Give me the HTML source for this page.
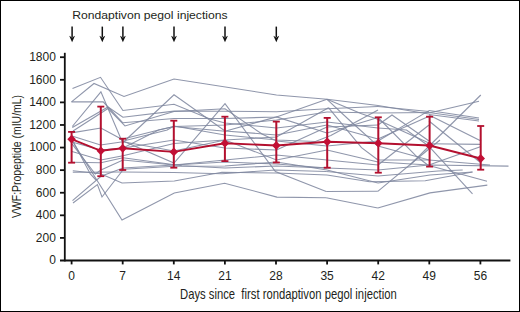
<!DOCTYPE html>
<html><head><meta charset="utf-8"><style>
html,body{margin:0;padding:0;background:#fff;}
body{width:520px;height:312px;overflow:hidden;}
svg{display:block;}
text{font-family:"Liberation Sans",sans-serif;fill:#231f20;}
</style></head><body>
<svg width="520" height="312" viewBox="0 0 520 312">
<rect x="0" y="0" width="520" height="312" fill="#fff"/>

<g fill="none" stroke="#80879f" stroke-width="1.1" stroke-opacity="0.88" stroke-linejoin="miter">
<polyline points="72.5,88.4 100.5,77.3 122.9,110.5 174.0,104.3 210.0,119.0 225.0,123.0 276.5,128.0 327.0,122.0"/>
<polyline points="71.5,101.9 94.0,83.5 124.0,96.5 174.0,79.0 276.5,95.0 327.0,99.3"/>
<polyline points="71.5,101.9 103.2,101.9 108.0,107.0 122.9,117.2 174.0,111.1 225.0,111.3 276.5,111.7 327.0,108.7"/>
<polyline points="72.3,126.5 100.9,91.9 120.9,138.8 123.0,142.5 174.0,94.8 225.0,131.0 276.5,135.0 327.0,125.0"/>
<polyline points="72.3,127.5 108.0,107.0 122.9,122.8 174.0,118.5 225.0,118.5 276.5,117.0 327.0,99.3"/>
<polyline points="73.0,131.0 108.0,108.5 125.0,126.0 174.0,111.5 225.0,108.8 262.0,134.0 276.5,141.0 327.0,146.0"/>
<polyline points="73.0,132.6 100.9,128.0 119.4,138.0 123.0,141.0 174.0,163.0 225.0,103.7 275.4,171.5 326.2,191.5"/>
<polyline points="72.0,136.0 100.5,145.0 123.0,141.7 174.0,151.0 225.0,140.0 276.5,137.0 328.5,107.7"/>
<polyline points="72.0,142.0 100.5,150.0 123.0,148.0 158.6,130.0 174.0,126.5 225.0,131.3 276.5,116.9 327.0,133.0"/>
<polyline points="72.0,143.8 95.3,174.0 101.0,170.0 123.0,160.0 174.0,165.0 225.0,160.0 276.5,155.0 327.0,160.0"/>
<polyline points="72.0,151.5 100.9,160.0 123.0,155.8 174.0,143.5 225.0,140.0 276.5,160.0 327.0,150.0"/>
<polyline points="72.0,162.3 100.9,162.7 123.0,157.7 182.0,165.7 225.0,168.0 276.5,166.0 327.0,168.0"/>
<polyline points="123.0,139.0 158.6,130.0 174.0,126.5 225.0,125.0 276.5,120.0 327.0,112.0"/>
<polyline points="125.4,140.5 167.2,130.0 174.0,126.0 225.0,135.0 276.5,140.0 315.4,141.5 330.8,135.4"/>
<polyline points="123.0,148.0 174.0,140.0 225.0,148.0 276.5,150.0 327.0,127.0"/>
<polyline points="73.5,143.0 122.0,220.0 174.3,192.9 224.6,183.2 276.9,197.1 326.2,197.7"/>
<polyline points="72.8,172.3 123.0,172.0 174.0,172.5 222.0,173.8 275.4,170.0 326.2,171.5"/>
<polyline points="72.8,170.8 100.5,173.8 122.0,183.0 174.3,181.0 222.0,172.3 276.0,173.0 327.0,175.0"/>
<polyline points="72.5,200.6 101.0,176.3 123.0,168.0 174.0,165.0 225.0,162.0 276.5,164.0 327.0,168.0"/>
<polyline points="73.0,203.0 97.4,184.6 102.0,197.0 123.5,169.2 174.3,166.2 225.0,166.0 276.5,162.0 327.0,170.0"/>
<polyline points="73.4,141.9 90.3,174.0 96.0,180.0"/>
<polyline points="327.0,99.3 378.0,105.5"/>
<polyline points="327.0,99.3 361.5,113.8 380.0,120.0"/>
<polyline points="327.0,99.3 350.8,121.5 372.3,140.8 378.0,146.0"/>
<polyline points="328.5,107.7 361.5,147.7 378.0,160.0"/>
<polyline points="327.0,108.7 378.0,106.5"/>
<polyline points="327.0,112.0 378.0,113.0"/>
<polyline points="327.0,127.0 378.0,125.0"/>
<polyline points="327.0,133.0 378.0,117.5"/>
<polyline points="330.8,135.4 378.0,110.0"/>
<polyline points="327.0,122.0 378.0,128.0"/>
<polyline points="327.0,125.0 378.0,139.0"/>
<polyline points="327.0,146.0 378.0,141.0"/>
<polyline points="327.0,150.0 378.0,162.0"/>
<polyline points="327.0,160.0 378.0,165.0"/>
<polyline points="326.2,171.5 378.0,176.0"/>
<polyline points="326.2,191.5 377.8,191.3"/>
<polyline points="326.2,197.7 377.8,208.0"/>
<polyline points="327.0,168.0 378.0,170.0"/>
<polyline points="327.0,175.0 369.6,181.8"/>
<polyline points="327.0,170.0 378.0,183.0"/>
<polyline points="378.0,105.5 429.0,114.0"/>
<polyline points="378.0,106.5 429.0,111.5"/>
<polyline points="378.0,113.0 429.0,112.5"/>
<polyline points="378.0,125.0 392.0,115.0 429.0,141.0"/>
<polyline points="378.0,117.5 416.5,156.3 429.0,166.0"/>
<polyline points="378.0,120.0 429.0,143.0"/>
<polyline points="378.0,139.0 429.0,116.3"/>
<polyline points="378.0,165.0 429.0,125.0"/>
<polyline points="377.8,191.3 427.7,150.0 440.0,140.0"/>
<polyline points="378.0,141.0 429.0,110.6"/>
<polyline points="378.0,128.0 406.5,130.0 429.0,146.3"/>
<polyline points="378.0,146.0 429.0,160.0"/>
<polyline points="378.0,160.0 429.0,160.0"/>
<polyline points="378.0,162.0 429.0,165.0"/>
<polyline points="377.8,208.0 430.0,192.9 487.3,185.1"/>
<polyline points="378.0,176.0 438.0,171.0 462.7,170.0"/>
<polyline points="369.6,181.8 425.2,180.8 472.5,172.0"/>
<polyline points="378.0,183.0 430.0,175.0 472.5,172.0"/>
<polyline points="378.0,170.0 429.0,165.0 508.5,166.1"/>
<polyline points="429.0,110.5 479.0,118.0"/>
<polyline points="429.0,112.5 479.0,119.5"/>
<polyline points="429.0,114.5 479.0,121.0"/>
<polyline points="429.0,113.0 479.0,101.3"/>
<polyline points="410.0,165.0 480.8,95.0"/>
<polyline points="429.0,165.5 487.0,181.3"/>
<polyline points="429.0,115.0 481.0,141.0"/>
<polyline points="429.0,121.0 481.0,163.0"/>
<polyline points="429.0,143.8 481.0,144.4"/>
<polyline points="429.0,146.3 472.5,193.9"/>
<polyline points="429.0,165.0 481.0,146.5"/>
<polyline points="429.0,160.0 490.0,165.0"/>
</g>
<g stroke="#111" stroke-width="1.8" fill="none">
<line x1="64.8" y1="52.8" x2="64.8" y2="261.4"/>
<line x1="60" y1="260.5" x2="510.4" y2="260.5"/>
<line x1="60" y1="237.91" x2="64.8" y2="237.91"/>
<line x1="60" y1="215.32" x2="64.8" y2="215.32"/>
<line x1="60" y1="192.74" x2="64.8" y2="192.74"/>
<line x1="60" y1="170.15" x2="64.8" y2="170.15"/>
<line x1="60" y1="147.56" x2="64.8" y2="147.56"/>
<line x1="60" y1="124.97" x2="64.8" y2="124.97"/>
<line x1="60" y1="102.38" x2="64.8" y2="102.38"/>
<line x1="60" y1="79.80" x2="64.8" y2="79.80"/>
<line x1="60" y1="57.21" x2="64.8" y2="57.21"/>
<line x1="71.60" y1="260.5" x2="71.60" y2="264.4"/>
<line x1="122.70" y1="260.5" x2="122.70" y2="264.4"/>
<line x1="173.80" y1="260.5" x2="173.80" y2="264.4"/>
<line x1="224.90" y1="260.5" x2="224.90" y2="264.4"/>
<line x1="276.00" y1="260.5" x2="276.00" y2="264.4"/>
<line x1="327.10" y1="260.5" x2="327.10" y2="264.4"/>
<line x1="378.20" y1="260.5" x2="378.20" y2="264.4"/>
<line x1="429.30" y1="260.5" x2="429.30" y2="264.4"/>
<line x1="480.40" y1="260.5" x2="480.40" y2="264.4"/>
</g>
<g font-size="12" text-anchor="end">
<text x="55.9" y="264.35">0</text>
<text x="55.9" y="241.76">200</text>
<text x="55.9" y="219.17">400</text>
<text x="55.9" y="196.59">600</text>
<text x="55.9" y="174.00">800</text>
<text x="55.9" y="151.41">1000</text>
<text x="55.9" y="128.82">1200</text>
<text x="55.9" y="106.23">1400</text>
<text x="55.9" y="83.65">1600</text>
<text x="55.9" y="61.06">1800</text>
</g>
<g font-size="12" text-anchor="middle">
<text x="71.60" y="279.5">0</text>
<text x="122.70" y="279.5">7</text>
<text x="173.80" y="279.5">14</text>
<text x="224.90" y="279.5">21</text>
<text x="276.00" y="279.5">28</text>
<text x="327.10" y="279.5">35</text>
<text x="378.20" y="279.5">42</text>
<text x="429.30" y="279.5">49</text>
<text x="480.40" y="279.5">56</text>
</g>
<g stroke="#b3102f" fill="none">
<polyline stroke-width="1.9" points="71.6,139.2 100.8,150.8 122.7,148.3 173.8,151.9 224.9,143.2 276.3,145.5 327.2,141.8 378.3,143.2 429.6,145.5 480.7,158.5"/>
<line stroke-width="2" x1="71.6" y1="131.9" x2="71.6" y2="162.7"/>
<line stroke-width="1.8" x1="68.1" y1="131.9" x2="75.1" y2="131.9"/>
<line stroke-width="1.8" x1="68.1" y1="162.7" x2="75.1" y2="162.7"/>
<line stroke-width="2" x1="100.8" y1="106.6" x2="100.8" y2="176.2"/>
<line stroke-width="1.8" x1="97.3" y1="106.6" x2="104.3" y2="106.6"/>
<line stroke-width="1.8" x1="97.3" y1="176.2" x2="104.3" y2="176.2"/>
<line stroke-width="2" x1="122.7" y1="138.7" x2="122.7" y2="170.0"/>
<line stroke-width="1.8" x1="119.2" y1="138.7" x2="126.2" y2="138.7"/>
<line stroke-width="1.8" x1="119.2" y1="170.0" x2="126.2" y2="170.0"/>
<line stroke-width="2" x1="173.8" y1="120.7" x2="173.8" y2="167.7"/>
<line stroke-width="1.8" x1="170.3" y1="120.7" x2="177.3" y2="120.7"/>
<line stroke-width="1.8" x1="170.3" y1="167.7" x2="177.3" y2="167.7"/>
<line stroke-width="2" x1="224.9" y1="116.7" x2="224.9" y2="161.1"/>
<line stroke-width="1.8" x1="221.4" y1="116.7" x2="228.4" y2="116.7"/>
<line stroke-width="1.8" x1="221.4" y1="161.1" x2="228.4" y2="161.1"/>
<line stroke-width="2" x1="276.3" y1="121.6" x2="276.3" y2="162.5"/>
<line stroke-width="1.8" x1="272.8" y1="121.6" x2="279.8" y2="121.6"/>
<line stroke-width="1.8" x1="272.8" y1="162.5" x2="279.8" y2="162.5"/>
<line stroke-width="2" x1="327.2" y1="117.9" x2="327.2" y2="167.7"/>
<line stroke-width="1.8" x1="323.7" y1="117.9" x2="330.7" y2="117.9"/>
<line stroke-width="1.8" x1="323.7" y1="167.7" x2="330.7" y2="167.7"/>
<line stroke-width="2" x1="378.3" y1="117.3" x2="378.3" y2="172.7"/>
<line stroke-width="1.8" x1="374.8" y1="117.3" x2="381.8" y2="117.3"/>
<line stroke-width="1.8" x1="374.8" y1="172.7" x2="381.8" y2="172.7"/>
<line stroke-width="2" x1="429.6" y1="116.7" x2="429.6" y2="166.6"/>
<line stroke-width="1.8" x1="426.1" y1="116.7" x2="433.1" y2="116.7"/>
<line stroke-width="1.8" x1="426.1" y1="166.6" x2="433.1" y2="166.6"/>
<line stroke-width="2" x1="480.7" y1="126.0" x2="480.7" y2="169.7"/>
<line stroke-width="1.8" x1="477.2" y1="126.0" x2="484.2" y2="126.0"/>
<line stroke-width="1.8" x1="477.2" y1="169.7" x2="484.2" y2="169.7"/>
</g>
<g fill="#c20f35">
<path d="M71.6 134.8L75.9 139.2L71.6 143.6L67.3 139.2Z"/>
<path d="M100.8 146.4L105.1 150.8L100.8 155.2L96.5 150.8Z"/>
<path d="M122.7 143.9L127.0 148.3L122.7 152.7L118.4 148.3Z"/>
<path d="M173.8 147.5L178.1 151.9L173.8 156.3L169.5 151.9Z"/>
<path d="M224.9 138.8L229.2 143.2L224.9 147.6L220.6 143.2Z"/>
<path d="M276.3 141.1L280.6 145.5L276.3 149.9L272.0 145.5Z"/>
<path d="M327.2 137.4L331.5 141.8L327.2 146.2L322.9 141.8Z"/>
<path d="M378.3 138.8L382.6 143.2L378.3 147.6L374.0 143.2Z"/>
<path d="M429.6 141.1L433.9 145.5L429.6 149.9L425.3 145.5Z"/>
<path d="M480.7 154.1L485.0 158.5L480.7 162.9L476.4 158.5Z"/>
</g>
<g fill="#111" stroke="#111">
<line stroke-width="1.5" x1="72.1" y1="26.6" x2="72.1" y2="37"/>
<path stroke="none" d="M72.1 42.2L69.2 35.8L72.1 37.4L75.0 35.8Z"/>
<line stroke-width="1.5" x1="102.3" y1="26.6" x2="102.3" y2="37"/>
<path stroke="none" d="M102.3 42.2L99.4 35.8L102.3 37.4L105.2 35.8Z"/>
<line stroke-width="1.5" x1="122.9" y1="26.6" x2="122.9" y2="37"/>
<path stroke="none" d="M122.9 42.2L120.0 35.8L122.9 37.4L125.8 35.8Z"/>
<line stroke-width="1.5" x1="174.0" y1="26.6" x2="174.0" y2="37"/>
<path stroke="none" d="M174.0 42.2L171.1 35.8L174.0 37.4L176.9 35.8Z"/>
<line stroke-width="1.5" x1="225.0" y1="26.6" x2="225.0" y2="37"/>
<path stroke="none" d="M225.0 42.2L222.1 35.8L225.0 37.4L227.9 35.8Z"/>
<line stroke-width="1.5" x1="276.3" y1="26.6" x2="276.3" y2="37"/>
<path stroke="none" d="M276.3 42.2L273.4 35.8L276.3 37.4L279.2 35.8Z"/>
</g>
<text x="0" y="0" font-size="10.75" transform="translate(72.2,19.4) scale(1.132,1)">Rondaptivon pegol injections</text>
<text x="180" y="298.6" font-size="13.8" transform="translate(180,0) scale(0.817,1) translate(-180,0)">Days since&#160; first rondaptivon pegol injection</text>
<text x="0" y="0" font-size="12.8" transform="translate(21.3,218) rotate(-90) scale(0.817,1)">VWF:Propeptide (mIU/mL)</text>
<rect x="0.5" y="0.5" width="519" height="311" fill="none" stroke="#000" stroke-width="1"/>
</svg></body></html>
